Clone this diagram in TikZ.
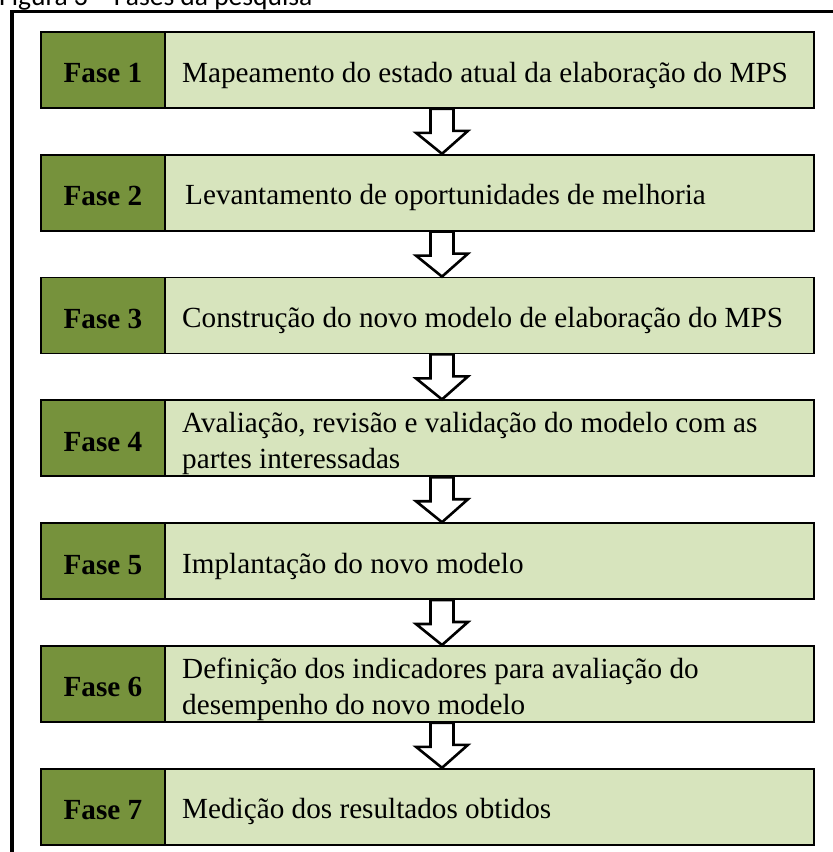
\documentclass[tikz,border=0pt]{standalone}
\usepackage{fontspec}
\setmainfont{Liberation Serif}
\newfontfamily\capfont{Carlito}
\usetikzlibrary{calc}
\definecolor{darkolive}{RGB}{118,146,60}
\definecolor{lightolive}{RGB}{215,228,189}
\tikzset{
  phasebox/.style={draw=black, line width=1.8pt, fill=darkolive, minimum width=124pt,
    minimum height=76pt, inner sep=0pt, anchor=north west,
    text height=26pt, text depth=0pt,
    font=\fontsize{29.2}{36}\selectfont\bfseries},
  descbox/.style={draw=black, line width=1.8pt, fill=lightolive, minimum width=649pt,
    minimum height=76pt, inner sep=0pt, anchor=north west},
  desctext/.style={anchor=base west, inner sep=0pt, font=\fontsize{29.2}{36}\selectfont},
  blockarr/.style={draw=black, fill=white, line width=2.6pt, line join=miter},
  frameline/.style={draw=black, line width=3.8pt, line join=miter},
  captext/.style={anchor=base west, inner sep=0pt, font=\capfont\fontsize{27.5}{27.5}\selectfont},
}
\newcommand\flowarrow[2]{%
  \draw[blockarr] ($(#1.south west)+(266.5,0)$) -- ++(0,24) -- ++(-14.5,0)
    -- ($(#2.north west)+(278,0)$) -- ++(26,-23) -- ++(-14.5,0)
    -- ($(#1.south west)+(289.5,0)$) -- cycle;}
\begin{document}
\begin{tikzpicture}[x=1pt,y=-1pt]
\useasboundingbox (0,0) rectangle (833,852);
\node[captext] (cap) at (-1,5.5) {Figura 3 – Fases da pesquisa};
\coordinate (fbl) at (12,852);
\coordinate (ftl) at (12,11.5);
\coordinate (ftr) at (833,11.5);
\draw[frameline] (fbl) -- (ftl) -- (ftr);
\foreach \i [evaluate=\i as \t using 31+(\i-1)*122.8] in {1,...,7}{
  \node[descbox] (l\i) at (164,\t) {};
  \node[phasebox] (d\i) at (40,\t) {Fase \i};
}
\node[desctext] (t1) at ($(l1.north west)+(18,51)$) {Mapeamento do estado atual da elaboração do MPS};
\node[desctext] (t2) at ($(l2.north west)+(21,51)$) {Levantamento de oportunidades de melhoria};
\node[desctext] (t3) at ($(l3.north west)+(18,51)$) {Construção do novo modelo de elaboração do MPS};
\node[desctext] (t4a) at ($(l4.north west)+(18,33)$) {Avaliação, revisão e validação do modelo com as};
\node[desctext] (t4b) at ($(l4.north west)+(18,69)$) {partes interessadas};
\node[desctext] (t5) at ($(l5.north west)+(18,51)$) {Implantação do novo modelo};
\node[desctext] (t6a) at ($(l6.north west)+(18,33)$) {Definição dos indicadores para avaliação do};
\node[desctext] (t6b) at ($(l6.north west)+(18,69)$) {desempenho do novo modelo};
\node[desctext] (t7) at ($(l7.north west)+(18,51)$) {Medição dos resultados obtidos};
\flowarrow{l1}{l2}
\flowarrow{l2}{l3}
\flowarrow{l3}{l4}
\flowarrow{l4}{l5}
\flowarrow{l5}{l6}
\flowarrow{l6}{l7}
\end{tikzpicture}
\end{document}
